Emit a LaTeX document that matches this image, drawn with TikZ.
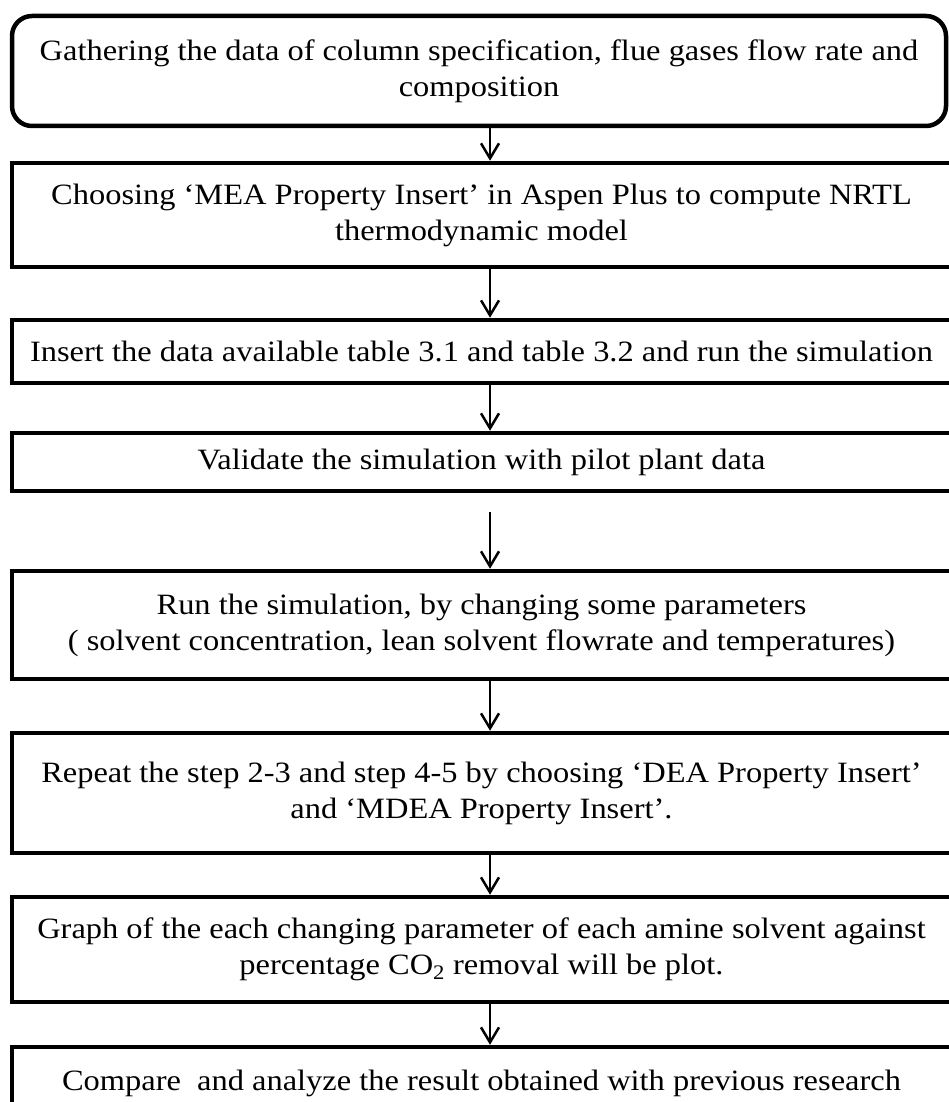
\documentclass[tikz,border=0pt]{standalone}
\usepackage{fontspec}
\setmainfont[FakeStretch=1.1]{Liberation Serif}
\usetikzlibrary{arrows.meta}

\begin{document}
\begin{tikzpicture}[x=1pt,y=-1pt,
		stepbox/.style={draw, line width=4.5pt, inner sep=0pt, minimum width=939pt, align=center, font=\fontsize{29.5}{36}\selectfont},
		flow/.style={line width=2.5pt, -{Straight Barb[length=15pt,width=18pt,line width=2.5pt]}}]
			%%%%% START %%%%%
			
			\useasboundingbox (0, 0) rectangle (949, 1102);
			\clip (0, 0) rectangle (949, 1102);
			\coordinate (ax) at (490, 0);
			
			\node[stepbox, rounded corners=20pt, minimum width=934pt, minimum height=110pt] (gather) at (479, 71)
				{Gathering the data of column specification, flue gases flow rate and\\composition};
			\node[stepbox, minimum height=104pt] (choose) at (481.5, 215)
				{Choosing ‘MEA Property Insert’ in Aspen Plus to compute NRTL\\thermodynamic model};
			\node[stepbox, minimum height=63pt] (insert) at (481.5, 351.5)
				{Insert the data available table 3.1 and table 3.2 and run the simulation};
			\node[stepbox, minimum height=58pt] (validate) at (481.5, 462)
				{Validate the simulation with pilot plant data};
			\node[stepbox, minimum height=108pt] (run) at (481.5, 625)
				{Run the simulation, by changing some parameters\\( solvent concentration, lean solvent flowrate and temperatures)};
			\node[stepbox, minimum height=120pt] (repeat) at (481.5, 793)
				{Repeat the step 2-3 and step 4-5 by choosing ‘DEA Property Insert’\\and ‘MDEA Property Insert’.};
			\node[stepbox, minimum height=105pt] (graph) at (481.5, 949.5)
				{Graph of the each changing parameter of each amine solvent against\\percentage CO\textsubscript{2} removal will be plot.};
			\node[stepbox, minimum height=72pt] (compare) at (481.5, 1083)
				{Compare\ \ and analyze the result obtained with previous research};
			
			\draw[flow] (gather.south -| ax) -- (choose.north -| ax);
			\draw[flow] (choose.south -| ax) -- (insert.north -| ax);
			\draw[flow] (insert.south -| ax) -- (validate.north -| ax);
			\draw[flow, shorten <=19pt] (validate.south -| ax) -- (run.north -| ax);
			\draw[flow] (run.south -| ax) -- (repeat.north -| ax);
			\draw[flow] (repeat.south -| ax) -- (graph.north -| ax);
			\draw[flow] (graph.south -| ax) -- (compare.north -| ax);
			
			%%%%% END %%%%%
		\end{tikzpicture}
\end{document}
